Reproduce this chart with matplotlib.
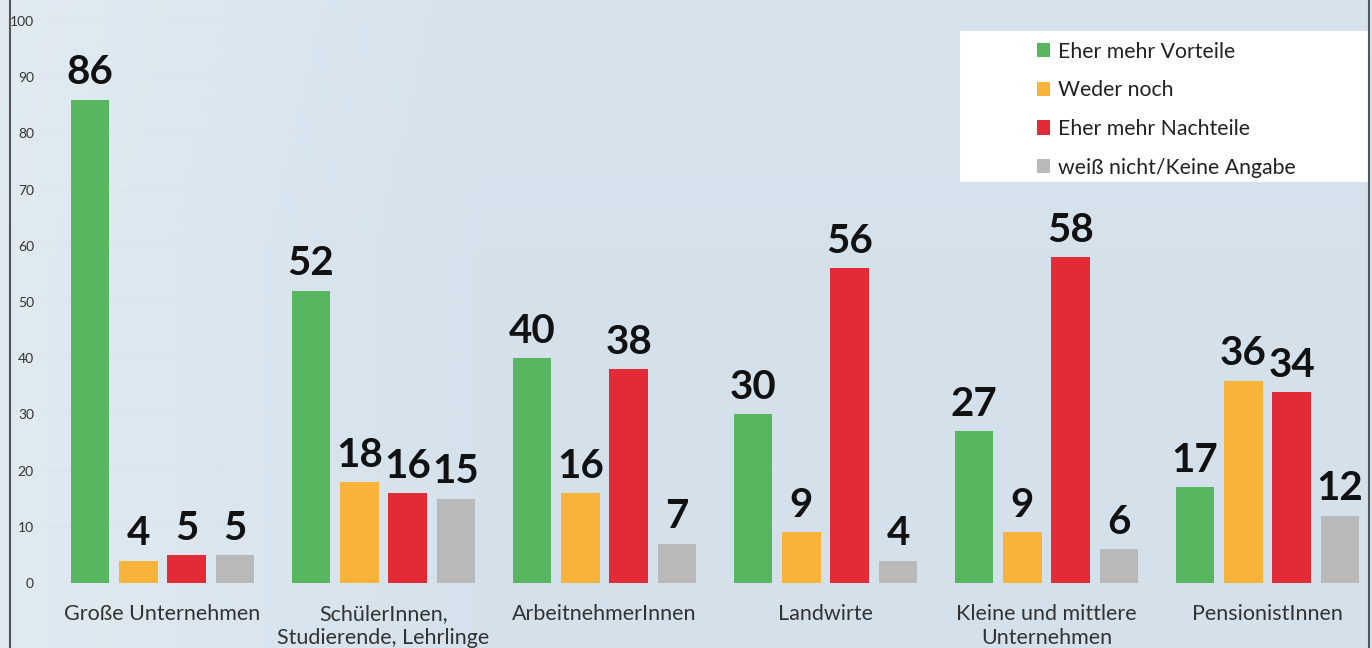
import numpy as np
import matplotlib.pyplot as plt
from matplotlib.patches import Rectangle
from matplotlib.lines import Line2D

plt.rcParams['font.family'] = ['Lato', 'DejaVu Sans']

'~~~~~~~~~~ DATA ~~~~~~~~~~'
categories = ['Große Unternehmen', 'SchülerInnen,\nStudierende, Lehrlinge', 'ArbeitnehmerInnen',
              'Landwirte', 'Kleine und mittlere\nUnternehmen', 'PensionistInnen']
series = ['Eher mehr Vorteile', 'Weder noch', 'Eher mehr Nachteile', 'weiß nicht/Keine Angabe']
vorteile = [86, 52, 40, 30, 27, 17]
weder = [4, 18, 16, 9, 9, 36]
nachteile = [5, 16, 38, 56, 58, 34]
weiss_nicht = [5, 15, 7, 4, 6, 12]
values = [vorteile, weder, nachteile, weiss_nicht]

colors = ['#57b65f', '#f8b33b', '#e22b36', '#b9b9b9']

'~~~~~~~~~~ FIGURE ~~~~~~~~~~'
fig = plt.figure(figsize=(13.72, 6.48), dpi=100)

# background gradient over the whole figure
bg = fig.add_axes([0, 0, 1, 1], zorder=-10)
gx = np.linspace(0, 1, 300)
gy = np.linspace(0, 1, 150)
GX, GY = np.meshgrid(gx, gy)
light = np.array([0.89, 0.925, 0.95])
base = np.array([0.835, 0.885, 0.925])
w = np.clip(1 - GX / 0.35, 0, 1) * 0.8 + np.clip(GY - 0.6, 0, 1) * 0.25
w = np.clip(w, 0, 1)
img = base[None, None, :] * (1 - w[..., None]) + light[None, None, :] * w[..., None]
bg.imshow(img, aspect='auto', extent=[0, 1, 0, 1], origin='lower')
bg.set_axis_off()

ax = fig.add_axes([45 / 1372, 65 / 648, 1324 / 1372, 562 / 648])
ax.set_facecolor('none')

x = np.arange(len(categories))
step = 0.2186
width = 0.174
for i, vals in enumerate(values):
    pos = x + (i - 1.5) * step
    bars = ax.bar(pos, vals, width, color=colors[i], label=series[i], zorder=3)
    for b, v in zip(bars, vals):
        ax.annotate(str(v), (b.get_x() + b.get_width() / 2, v), xytext=(0, 6),
                    textcoords='offset points', ha='center', va='bottom',
                    fontsize=29, fontweight='bold', color='#111111')

ax.set_xlim(-0.532, 5.459)
ax.set_ylim(0, 100)
ax.set_yticks(np.arange(0, 101, 10))
ax.tick_params(axis='y', length=0, pad=8, labelsize=10, labelcolor='#333333')
ax.set_xticks(x)
ax.set_xticklabels(categories, fontsize=15.5, color='#333333', linespacing=1.25)
ax.tick_params(axis='x', length=0, pad=15)
for s in ax.spines.values():
    s.set_visible(False)
ax.yaxis.grid(True, color='#d8e4ed', linewidth=0.6, zorder=0)

# white legend box
fig.patches.append(Rectangle((960 / 1372, 466 / 648), 409 / 1372, 151 / 648,
                             transform=fig.transFigure, facecolor='white',
                             edgecolor='none', zorder=1))
leg = fig.legend(loc='upper left', bbox_to_anchor=(1028 / 1372, 1 - 33 / 648),
                 frameon=False, fontsize=15.3, handlelength=0.65, handleheight=0.65,
                 handletextpad=0.35, labelspacing=0.88, borderaxespad=0)
leg.set_zorder(5)
for t in leg.get_texts():
    t.set_color('#222222')

# frame lines left and right
fig.add_artist(Line2D([10 / 1372, 10 / 1372], [0, 1], transform=fig.transFigure,
                      color='#555555', linewidth=1.5))
fig.add_artist(Line2D([1369 / 1372, 1369 / 1372], [0, 1], transform=fig.transFigure,
                      color='#555555', linewidth=1.5))

fig.savefig('out.png', dpi=100)
